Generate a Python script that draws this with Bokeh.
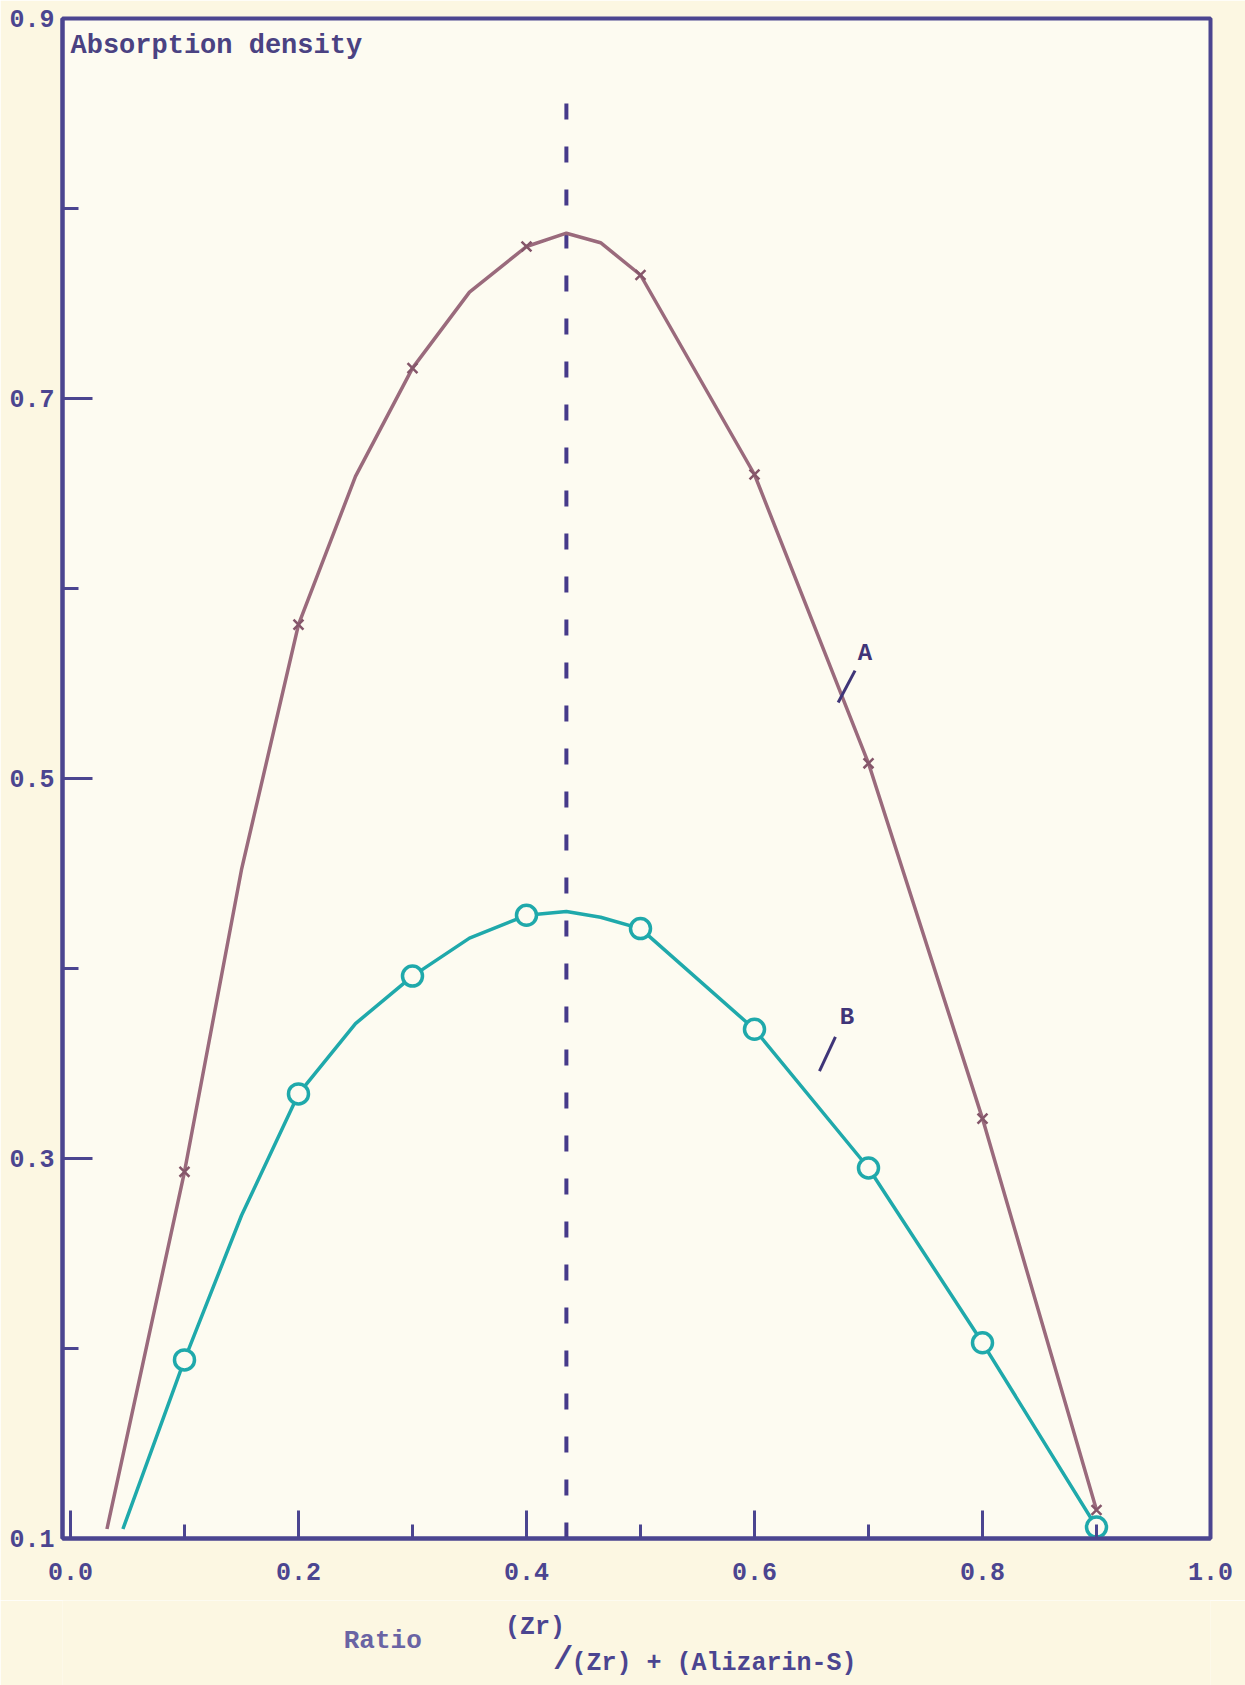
from bokeh.plotting import figure
from bokeh.layouts import column
from bokeh.models import Range1d, FixedTicker, Label
from bokeh.embed import file_html
from bokeh.resources import INLINE

# ---- data ----
# measured points (markers)
ratio = [0.1, 0.2, 0.3, 0.4, 0.5, 0.6, 0.7, 0.8, 0.9]
curve_a = [0.293, 0.581, 0.716, 0.780, 0.765, 0.660, 0.508, 0.321, 0.115]
curve_b = [0.194, 0.334, 0.396, 0.428, 0.421, 0.368, 0.295, 0.203, 0.106]

# hand-drawn curve traces (start, bends, maximum)
trace_a_x = [0.032, 0.1, 0.15, 0.2, 0.25, 0.3, 0.35, 0.4, 0.435, 0.465, 0.5, 0.6, 0.7, 0.8, 0.9]
trace_a_y = [0.105, 0.293, 0.452, 0.581, 0.659, 0.716, 0.756, 0.780, 0.787, 0.782, 0.765, 0.660, 0.508, 0.321, 0.115]
trace_b_x = [0.046, 0.1, 0.15, 0.2, 0.25, 0.3, 0.35, 0.4, 0.435, 0.465, 0.5, 0.6, 0.7, 0.8, 0.9]
trace_b_y = [0.105, 0.194, 0.270, 0.334, 0.371, 0.396, 0.416, 0.428, 0.430, 0.427, 0.421, 0.368, 0.295, 0.203, 0.106]

peak_ratio = 0.435
dash_top = 0.865

x_ticks = [0.0, 0.2, 0.4, 0.6, 0.8, 1.0]
x_tick_labels = ["0.0", "0.2", "0.4", "0.6", "0.8", "1.0"]
x_minor = [0.1, 0.3, 0.5, 0.7, 0.9]
y_ticks = [0.1, 0.3, 0.5, 0.7, 0.9]
y_tick_labels = ["0.1", "0.3", "0.5", "0.7", "0.9"]
y_minor = [0.2, 0.4, 0.6, 0.8]

# ---- styling ----
INK = "#4b4590"
A_COL = "#9a6a7c"
B_COL = "#1fa9ab"
PAPER = "#fcf7e2"
INSIDE = "#fdfbf1"
FONT = "Liberation Mono"

p = figure(width=1245, height=1600,
           x_range=Range1d(-0.007, 1.0), y_range=Range1d(0.1, 0.9),
           output_backend="svg", toolbar_location=None,
           min_border_left=62, min_border_right=35,
           min_border_top=18, min_border_bottom=62)

p.background_fill_color = INSIDE
p.border_fill_color = PAPER
p.outline_line_color = INK
p.outline_line_width = 4
p.grid.visible = False

p.xaxis.ticker = FixedTicker(ticks=x_ticks, minor_ticks=x_minor)
p.xaxis.major_label_overrides = dict(zip(x_ticks, x_tick_labels))
p.yaxis.ticker = FixedTicker(ticks=y_ticks, minor_ticks=y_minor)
p.yaxis.major_label_overrides = dict(zip(y_ticks, y_tick_labels))

for ax in (p.xaxis, p.yaxis):
    ax.axis_line_color = INK
    ax.axis_line_width = 4
    ax.major_tick_line_color = INK
    ax.minor_tick_line_color = INK
    ax.major_tick_line_width = 3
    ax.minor_tick_line_width = 3
    ax.major_tick_out = 0
    ax.minor_tick_out = 0
    ax.major_label_text_font = FONT
    ax.major_label_text_font_style = "bold"
    ax.major_label_text_font_size = "25px"
    ax.major_label_text_color = INK

p.xaxis.major_tick_in = 28
p.xaxis.minor_tick_in = 14
p.xaxis.major_label_standoff = 24
p.yaxis.major_tick_in = 30
p.yaxis.minor_tick_in = 16
p.yaxis.major_label_standoff = 8

# dashed vertical line at the maximum
p.segment(x0=[peak_ratio], y0=[0.1], x1=[peak_ratio], y1=[dash_top],
          line_color="#463a8a", line_width=4, line_dash="16 27")

# curve A
p.line(trace_a_x, trace_a_y, line_color=A_COL, line_width=3.5, line_join="round")
p.scatter(ratio, curve_a, marker="x", size=14, line_color="#85566a", line_width=2.5)

# curve B
p.line(trace_b_x, trace_b_y, line_color=B_COL, line_width=3.5, line_join="round")
p.scatter(ratio, curve_b, marker="circle", size=20, line_color=B_COL,
          line_width=3.5, fill_color=INSIDE)

# curve labels with leader lines
p.segment(x0=[0.6882, 0.671], y0=[0.5568, 0.364], x1=[0.6734, 0.657], y1=[0.540, 0.346],
          line_color="#3f3578", line_width=3)
p.add_layout(Label(x=0.697, y=0.566, text="A", text_font=FONT, text_font_style="bold",
                   text_font_size="24px", text_color="#3f3578",
                   text_align="center", text_baseline="middle"))
p.add_layout(Label(x=0.681, y=0.374, text="B", text_font=FONT, text_font_style="bold",
                   text_font_size="24px", text_color="#3f3578",
                   text_align="center", text_baseline="middle"))

# y title inside the frame
p.add_layout(Label(x=0.0, y=0.8855, text="Absorption density", text_font=FONT,
                   text_font_style="bold", text_font_size="27px", text_color="#4a4282",
                   text_align="left", text_baseline="middle"))

# ---- x title strip below the chart (page pixels, y measured from strip top) ----
t = figure(width=1245, height=85, x_range=Range1d(0, 1245), y_range=Range1d(85, 0),
           output_backend="svg", toolbar_location=None,
           min_border_left=0, min_border_right=0, min_border_top=0, min_border_bottom=0)
t.axis.visible = False
t.grid.visible = False
t.outline_line_color = None
t.background_fill_color = PAPER
t.border_fill_color = PAPER

t.add_layout(Label(x=305, y=40, text="Ratio", text_font=FONT,
                   text_font_style="bold", text_font_size="26px", text_color="#6a64a4",
                   text_align="left", text_baseline="middle"))
t.add_layout(Label(x=480, y=27, text="(Zr)", text_font=FONT,
                   text_font_style="bold", text_font_size="25px", text_color=INK,
                   text_align="left", text_baseline="middle"))
t.add_layout(Label(x=543, y=59, text="/", text_font=FONT,
                   text_font_style="bold", text_font_size="34px", text_color=INK,
                   text_align="center", text_baseline="middle"))
t.add_layout(Label(x=552, y=63, text="(Zr) + (Alizarin-S)", text_font=FONT,
                   text_font_style="bold", text_font_size="25px", text_color=INK,
                   text_align="left", text_baseline="middle"))

page = column(p, t, spacing=0)
open("out.html", "w").write(file_html(page, INLINE))
